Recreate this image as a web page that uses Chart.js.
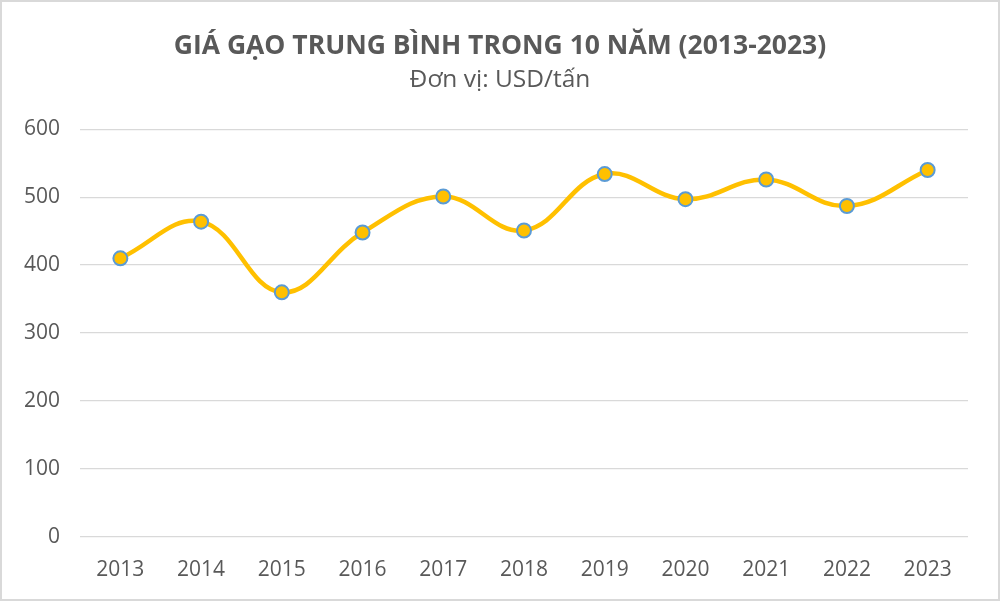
<!DOCTYPE html>
<html>
<head>
<meta charset="utf-8">
<script src="https://cdn.jsdelivr.net/npm/chart.js@4.4.0/dist/chart.umd.min.js"></script>
<style>
  html, body { margin: 0; padding: 0; background: #fff; }
  #wrap { width: 1000px; height: 601px; box-sizing: border-box; border: 2px solid #d9d9d9; position: relative; }
</style>
</head>
<body>
<div id="wrap"><canvas id="riceChart"></canvas></div>
<script>
const years = ['2013', '2014', '2015', '2016', '2017', '2018', '2019', '2020', '2021', '2022', '2023'];
const prices = [410, 464, 360, 448, 501, 451, 534, 497, 526, 487, 540];
const yTicks = [0, 100, 200, 300, 400, 500, 600];

// center title + subtitle across the whole canvas, not the padded box
const centerHeadings = {
  id: 'centerHeadings',
  afterLayout(chart) {
    chart.boxes.forEach(b => {
      if (b.position === 'top' && !b.axis) {
        b.left = 0;
        b.right = chart.width;
        b.width = chart.width;
      }
    });
  }
};

const ctx = document.getElementById('riceChart').getContext('2d');
const riceChart = new Chart(ctx, {
  type: 'line',
  data: {
    labels: years,
    datasets: [{
      label: 'Giá gạo',
      data: prices,
      borderColor: '#FFC000',
      borderWidth: 4.5,
      tension: 0.4,
      pointBackgroundColor: '#FFC000',
      pointBorderColor: '#5B9BD5',
      pointBorderWidth: 2,
      pointRadius: 7,
      fill: false
    }]
  },
  options: {
    responsive: true,
    maintainAspectRatio: false,
    animation: false,
    layout: { padding: { left: 16, right: 30, top: 0, bottom: 15 } },
    plugins: {
      legend: { display: false },
      tooltip: { enabled: false },
      title: {
        display: true,
        text: 'GIÁ GẠO TRUNG BÌNH TRONG 10 NĂM (2013-2023)',
        color: '#595959',
        font: { family: 'Open Sans', size: 26.5, weight: 'bold' },
        padding: { top: 29, bottom: 3 }
      },
      subtitle: {
        display: true,
        text: 'Đơn vị: USD/tấn',
        color: '#595959',
        font: { family: 'Open Sans', size: 24.5 },
        padding: { bottom: 34 }
      }
    },
    scales: {
      x: {
        offset: true,
        afterFit: axis => { axis.height = 47; },
        grid: { display: false, drawTicks: false },
        border: { display: false },
        ticks: { color: '#595959', font: { family: 'Open Sans', size: 21 }, padding: 20 }
      },
      y: {
        min: 0,
        max: 600,
        afterBuildTicks: axis => { axis.ticks = yTicks.map(v => ({ value: v })); },
        afterFit: axis => { axis.width = 62; },
        grid: { color: '#d9d9d9', lineWidth: 1.3, drawTicks: false },
        border: { display: false },
        ticks: { color: '#595959', font: { family: 'Open Sans', size: 21 }, padding: 20 }
      }
    }
  },
  plugins: [centerHeadings]
});
</script>
</body>
</html>
